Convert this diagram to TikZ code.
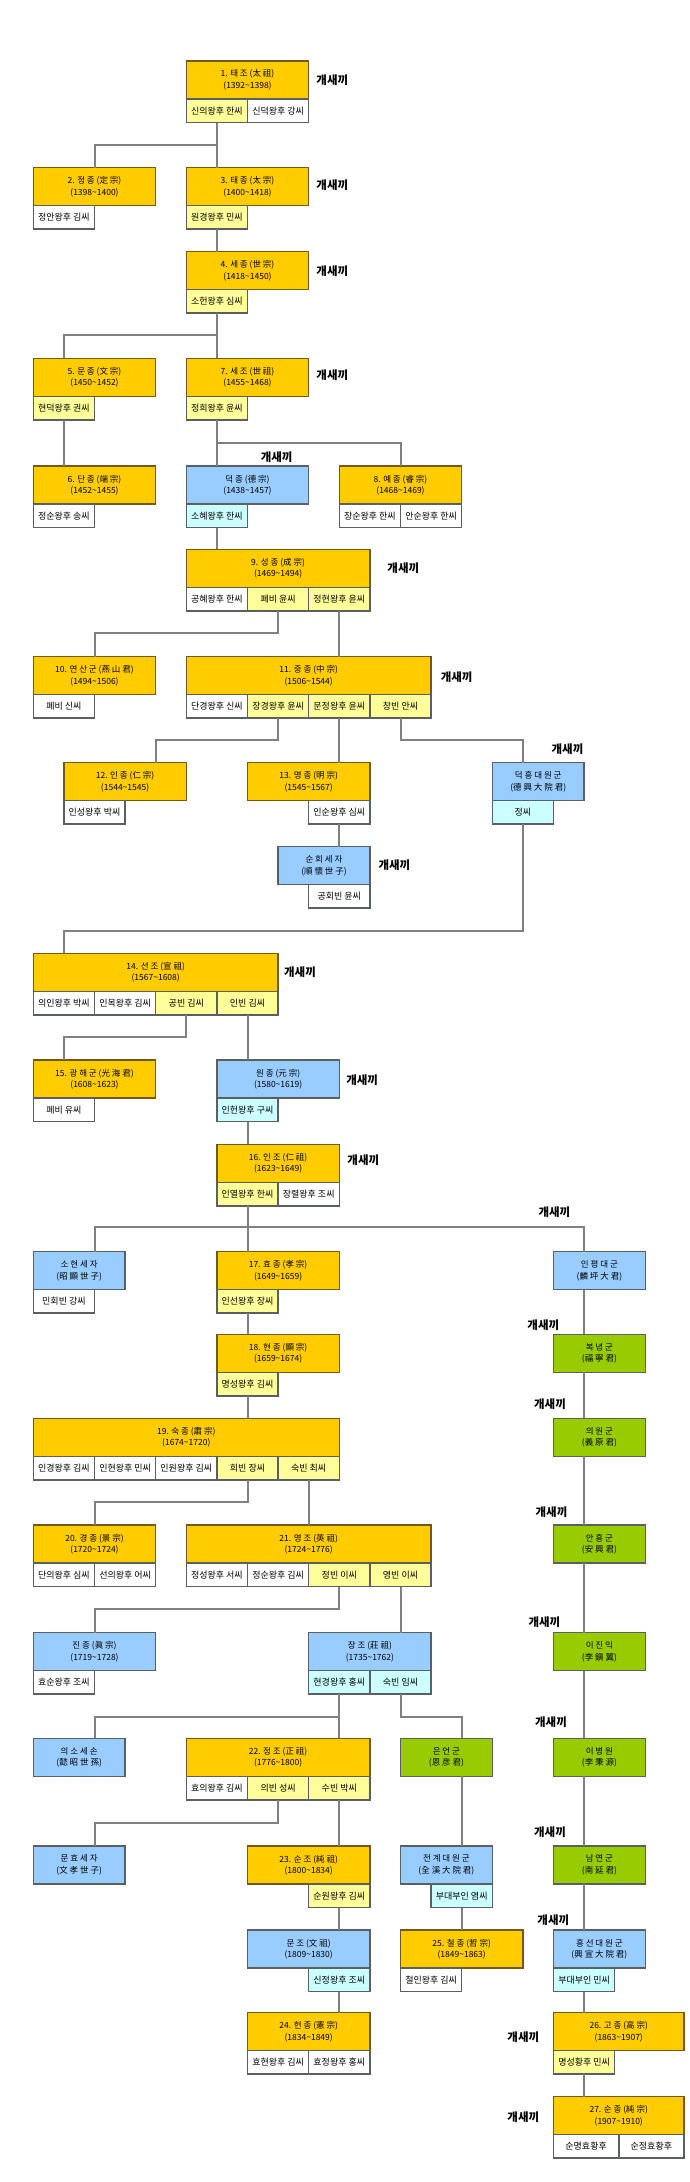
\documentclass[tikz,border=0pt]{standalone}
\usepackage{fontspec}
\setmainfont{Noto Sans CJK KR}
\newcommand*{\reign}[2]{(#1\textasciitilde #2)}
\definecolor{kingfill}{RGB}{255,204,0}
\definecolor{kingline}{RGB}{110,90,30}
\definecolor{princefill}{RGB}{153,204,255}
\definecolor{branchfill}{RGB}{153,204,0}
\definecolor{queenfill}{RGB}{255,255,153}
\definecolor{consortfill}{RGB}{204,255,255}
\definecolor{boxline}{RGB}{90,95,100}
\definecolor{linkgray}{RGB}{128,128,128}
\tikzset{
    king/.style = {
        draw=kingline, fill=kingfill, line width=1.5pt,
        anchor=north west, outer sep=0pt, inner sep=0pt,
        minimum width=122.4pt, minimum height=38pt,
        align=center, font=\fontsize{8.5}{11.5}\selectfont
    },
    prince/.style = {king, draw=boxline, fill=princefill, minimum width=91.8pt},
    branch/.style = {prince, fill=branchfill},
    wife/.style = {
        draw=boxline, fill=white, line width=1.5pt,
        anchor=north west, outer sep=0pt, inner sep=0pt,
        minimum width=61.2pt, minimum height=23.5pt,
        font=\fontsize{9}{10}\selectfont
    },
    queen/.style = {wife, fill=queenfill},
    consort/.style = {wife, fill=consortfill},
    link/.style = {draw=linkgray, line width=2pt},
    tag/.style = {font=\fontsize{11.5}{12}\selectfont\bfseries}
}
\begin{document}
\begin{tikzpicture}[x=1pt, y=-1pt]
  \path[use as bounding box, fill=white] (0,0) rectangle (690,2182);

  % Kings 1 to 8
  \node[king] (k1) at (186.3,61) {1. 태 조 (太 祖)\\\reign{1392}{1398}};
  \node[queen] (k1w1) at (k1.south west) {신의왕후 한씨};
  \node[wife] (k1w2) at (k1w1.north east) {신덕왕후 강씨};

  \node[king] (k2) at (33.3,167.7) {2. 정 종 (定 宗)\\\reign{1398}{1400}};
  \node[wife] (k2w1) at (k2.south west) {정안왕후 김씨};
  \node[king] (k3) at (186.3,167.7) {3. 태 종 (太 宗)\\\reign{1400}{1418}};
  \node[queen] (k3w1) at (k3.south west) {원경왕후 민씨};

  \node[king] (k4) at (186.3,251.7) {4. 세 종 (世 宗)\\\reign{1418}{1450}};
  \node[queen] (k4w1) at (k4.south west) {소헌왕후 심씨};

  \node[king] (k5) at (33.3,358.3) {5. 문 종 (文 宗)\\\reign{1450}{1452}};
  \node[queen] (k5w1) at (k5.south west) {현덕왕후 권씨};
  \node[king] (k7) at (186.3,358.3) {7. 세 조 (世 祖)\\\reign{1455}{1468}};
  \node[queen] (k7w1) at (k7.south west) {정희왕후 윤씨};

  \node[king] (k6) at (33.3,466) {6. 단 종 (端 宗)\\\reign{1452}{1455}};
  \node[wife] (k6w1) at (k6.south west) {정순왕후 송씨};
  \node[prince, minimum width=122.4pt] (deokjong) at (186.3,466) {덕 종 (德 宗)\\\reign{1438}{1457}};
  \node[consort] (deokjongw1) at (deokjong.south west) {소혜왕후 한씨};
  \node[king] (k8) at (339.3,466) {8. 예 종 (睿 宗)\\\reign{1468}{1469}};
  \node[wife] (k8w1) at (k8.south west) {장순왕후 한씨};
  \node[wife] (k8w2) at (k8w1.north east) {안순왕후 한씨};

  % Kings 9 to 13
  \node[king, minimum width=183.6pt] (k9) at (186.3,549.3) {9. 성 종 (成 宗)\\\reign{1469}{1494}};
  \node[wife] (k9w1) at (k9.south west) {공혜왕후 한씨};
  \node[queen] (k9w2) at (k9w1.north east) {폐비 윤씨};
  \node[queen] (k9w3) at (k9w2.north east) {정현왕후 윤씨};

  \node[king] (k10) at (33.3,656.7) {10. 연 산 군 (燕 山 君)\\\reign{1494}{1506}};
  \node[wife] (k10w1) at (k10.south west) {폐비 신씨};
  \node[king, minimum width=244.8pt] (k11) at (186.3,656.7) {11. 중 종 (中 宗)\\\reign{1506}{1544}};
  \node[wife] (k11w1) at (k11.south west) {단경왕후 신씨};
  \node[queen] (k11w2) at (k11w1.north east) {장경왕후 윤씨};
  \node[queen] (k11w3) at (k11w2.north east) {문정왕후 윤씨};
  \node[queen] (k11w4) at (k11w3.north east) {창빈 안씨};

  \node[king] (k12) at (63.9,762.7) {12. 인 종 (仁 宗)\\\reign{1544}{1545}};
  \node[wife] (k12w1) at (k12.south west) {인성왕후 박씨};
  \node[king] (k13) at (247.5,762.7) {13. 명 종 (明 宗)\\\reign{1545}{1567}};
  \node[wife, anchor=north east] (k13w1) at (k13.south east) {인순왕후 심씨};
  \node[prince] (deokheung) at (492.3,762.7) {덕 흥 대 원 군\\(德 興 大 院 君)};
  \node[consort] (deokheungw1) at (deokheung.south west) {정씨};

  \node[prince] (sunhoe) at (278.1,846.7) {순 회 세 자\\(順 懷 世 子)};
  \node[wife, anchor=north east] (sunhoew1) at (sunhoe.south east) {공회빈 윤씨};

  % Kings 14 to 18
  \node[king, minimum width=244.8pt] (k14) at (33.3,953.3) {14. 선 조 (宣 祖)\\\reign{1567}{1608}};
  \node[wife] (k14w1) at (k14.south west) {의인왕후 박씨};
  \node[wife] (k14w2) at (k14w1.north east) {인목왕후 김씨};
  \node[queen] (k14w3) at (k14w2.north east) {공빈 김씨};
  \node[queen] (k14w4) at (k14w3.north east) {인빈 김씨};

  \node[king] (k15) at (33.3,1060) {15. 광 해 군 (光 海 君)\\\reign{1608}{1623}};
  \node[wife] (k15w1) at (k15.south west) {폐비 유씨};
  \node[prince, minimum width=122.4pt] (wonjong) at (216.9,1060) {원 종 (元 宗)\\\reign{1580}{1619}};
  \node[consort] (wonjongw1) at (wonjong.south west) {인헌왕후 구씨};

  \node[king] (k16) at (216.9,1144.3) {16. 인 조 (仁 祖)\\\reign{1623}{1649}};
  \node[queen] (k16w1) at (k16.south west) {인열왕후 한씨};
  \node[wife] (k16w2) at (k16w1.north east) {장렬왕후 조씨};

  \node[prince] (sohyeon) at (33.3,1251.7) {소 현 세 자\\(昭 顯 世 子)};
  \node[wife] (sohyeonw1) at (sohyeon.south west) {민회빈 강씨};
  \node[king] (k17) at (216.9,1251.7) {17. 효 종 (孝 宗)\\\reign{1649}{1659}};
  \node[queen] (k17w1) at (k17.south west) {인선왕후 장씨};
  \node[prince] (inpyeong) at (553.5,1251.7) {인 평 대 군\\(麟 坪 大 君)};

  \node[king] (k18) at (216.9,1334.3) {18. 현 종 (顯 宗)\\\reign{1659}{1674}};
  \node[queen] (k18w1) at (k18.south west) {명성왕후 김씨};
  \node[branch] (bokneung) at (553.5,1334.3) {복 녕 군\\(福 寧 君)};

  % Kings 19 to 21
  \node[king, minimum width=306pt] (k19) at (33.3,1418.3) {19. 숙 종 (肅 宗)\\\reign{1674}{1720}};
  \node[wife] (k19w1) at (k19.south west) {인경왕후 김씨};
  \node[wife] (k19w2) at (k19w1.north east) {인현왕후 민씨};
  \node[wife] (k19w3) at (k19w2.north east) {인원왕후 김씨};
  \node[queen] (k19w4) at (k19w3.north east) {희빈 장씨};
  \node[queen] (k19w5) at (k19w4.north east) {숙빈 최씨};
  \node[branch] (uiwon) at (553.5,1418.3) {의 원 군\\(義 原 君)};

  \node[king] (k20) at (33.3,1525) {20. 경 종 (景 宗)\\\reign{1720}{1724}};
  \node[wife] (k20w1) at (k20.south west) {단의왕후 심씨};
  \node[wife] (k20w2) at (k20w1.north east) {선의왕후 어씨};
  \node[king, minimum width=244.8pt] (k21) at (186.3,1525) {21. 영 조 (英 祖)\\\reign{1724}{1776}};
  \node[wife] (k21w1) at (k21.south west) {정성왕후 서씨};
  \node[wife] (k21w2) at (k21w1.north east) {정순왕후 김씨};
  \node[queen] (k21w3) at (k21w2.north east) {정빈 이씨};
  \node[queen] (k21w4) at (k21w3.north east) {영빈 이씨};
  \node[branch] (anheung) at (553.5,1525) {안 흥 군\\(安 興 君)};

  \node[prince, minimum width=122.4pt] (jinjong) at (33.3,1632.7) {진 종 (眞 宗)\\\reign{1719}{1728}};
  \node[wife] (jinjongw1) at (jinjong.south west) {효순왕후 조씨};
  \node[prince, minimum width=122.4pt] (jangjo) at (308.7,1632.7) {장 조 (莊 祖)\\\reign{1735}{1762}};
  \node[consort] (jangjow1) at (jangjo.south west) {현경왕후 홍씨};
  \node[consort] (jangjow2) at (jangjow1.north east) {숙빈 임씨};
  \node[branch] (jinik) at (553.5,1632.7) {이 진 익\\(李 鎭 翼)};

  % Kings 22 to 27
  \node[prince] (uiso) at (33.3,1738.3) {의 소 세 손\\(懿 昭 世 孫)};
  \node[king, minimum width=183.6pt] (k22) at (186.3,1738.3) {22. 정 조 (正 祖)\\\reign{1776}{1800}};
  \node[wife] (k22w1) at (k22.south west) {효의왕후 김씨};
  \node[queen] (k22w2) at (k22w1.north east) {의빈 성씨};
  \node[queen] (k22w3) at (k22w2.north east) {수빈 박씨};
  \node[branch] (euneon) at (400.5,1738.3) {은 언 군\\(恩 彦 君)};
  \node[branch] (byeongwon) at (553.5,1738.3) {이 병 원\\(李 秉 源)};

  \node[prince] (munhyo) at (33.3,1846) {문 효 세 자\\(文 孝 世 子)};
  \node[king] (k23) at (247.5,1846) {23. 순 조 (純 祖)\\\reign{1800}{1834}};
  \node[queen, anchor=north east] (k23w1) at (k23.south east) {순원왕후 김씨};
  \node[prince] (jeongye) at (400.5,1846) {전 계 대 원 군\\(全 溪 大 院 君)};
  \node[consort, anchor=north east] (jeongyew1) at (jeongye.south east) {부대부인 염씨};
  \node[branch] (namyeon) at (553.5,1846) {남 연 군\\(南 延 君)};

  \node[prince, minimum width=122.4pt] (munjo) at (247.5,1930) {문 조 (文 祖)\\\reign{1809}{1830}};
  \node[consort, anchor=north east] (munjow1) at (munjo.south east) {신정왕후 조씨};
  \node[king] (k25) at (400.5,1930) {25. 철 종 (哲 宗)\\\reign{1849}{1863}};
  \node[wife] (k25w1) at (k25.south west) {철인왕후 김씨};
  \node[prince] (heungseon) at (553.5,1930) {흥 선 대 원 군\\(興 宣 大 院 君)};
  \node[consort] (heungseonw1) at (heungseon.south west) {부대부인 민씨};

  \node[king] (k24) at (247.5,2012.7) {24. 헌 종 (憲 宗)\\\reign{1834}{1849}};
  \node[wife] (k24w1) at (k24.south west) {효현왕후 김씨};
  \node[wife] (k24w2) at (k24w1.north east) {효정왕후 홍씨};
  \node[king, minimum width=130.5pt] (k26) at (553.5,2012.7) {26. 고 종 (高 宗)\\\reign{1863}{1907}};
  \node[queen] (k26w1) at (k26.south west) {명성황후 민씨};

  \node[king, minimum width=130.5pt] (k27) at (553.5,2096.7) {27. 순 종 (純 宗)\\\reign{1907}{1910}};
  \node[wife, minimum width=65.25pt] (k27w1) at (k27.south west) {순명효황후};
  \node[wife, minimum width=65.25pt] (k27w2) at (k27w1.north east) {순정효황후};

  % Tags beside the boxes
  \node[tag] (k1tag) at (332.3,80) {개새끼};
  \node[tag] (k3tag) at (332.3,185) {개새끼};
  \node[tag] (k4tag) at (332.3,270.7) {개새끼};
  \node[tag] (k7tag) at (332.3,375) {개새끼};
  \node[tag] (deokjongtag) at (276.7,456.7) {개새끼};
  \node[tag] (k9tag) at (403.3,568.3) {개새끼};
  \node[tag] (k11tag) at (456.7,676.7) {개새끼};
  \node[tag] (deokheungtag) at (567.5,749.3) {개새끼};
  \node[tag] (sunhoetag) at (394.4,865) {개새끼};
  \node[tag] (k14tag) at (300,971.7) {개새끼};
  \node[tag] (wonjongtag) at (362.2,1080) {개새끼};
  \node[tag] (k16tag) at (363.3,1160) {개새끼};
  \node[tag] (inpyeongtag) at (554.4,1211.7) {개새끼};
  \node[tag] (bokneungtag) at (543.3,1325) {개새끼};
  \node[tag] (uiwontag) at (550,1404) {개새끼};
  \node[tag] (anheungtag) at (551.5,1511.7) {개새끼};
  \node[tag] (jiniktag) at (544.4,1621.7) {개새끼};
  \node[tag] (byeongwontag) at (551,1721.7) {개새끼};
  \node[tag] (namyeontag) at (550,1831.7) {개새끼};
  \node[tag] (heungseontag) at (553.3,1920) {개새끼};
  \node[tag] (k26tag) at (523.3,2037.3) {개새끼};
  \node[tag] (k27tag) at (523.3,2117.3) {개새끼};

  % Main line
  \draw[link] (k1w1.south) -- ++(0,22.5) -| (k2.north);
  \draw[link] (k1w1.south) -- (k1w1.south |- k3.north);
  \draw[link] (k3w1.south) -- (k3w1.south |- k4.north);
  \draw[link] (k4w1.south) -- ++(0,21.8) -| (k5.north -| k5w1.south);
  \draw[link] (k4w1.south) -- (k4w1.south |- k7.north);
  \draw[link] (k5w1.south) -- (k5w1.south |- k6.north);
  \draw[link] (k7w1.south) -- ++(0,22.9) -| (k8.north);
  \draw[link] (k7w1.south) -- (k7w1.south |- deokjong.north);
  \draw[link] (deokjongw1.south) -- (deokjongw1.south |- k9.north);
  \draw[link] (k9w2.south) -- ++(0,22.5) -| (k10.north);
  \draw[link] (k9w3.south) -- (k9w3.south |- k11.north);
  \draw[link] (k11w2.south) -- ++(0,21.8) -| ([xshift=-30.6pt]k12.north east);
  \draw[link] (k11w3.south) -- (k11w3.south |- k13.north);
  \draw[link] (k11w4.south) -- ++(0,21.8) -| (deokheung.north -| deokheungw1.south);
  \draw[link] (k13w1.south) -- (k13w1.south |- sunhoe.north);
  \draw[link] (deokheungw1.south) -- ++(0,106.5) -| (k14.north -| k14w1.south);
  \draw[link] (k14w3.south) -- ++(0,21.9) -| (k15.north -| k15w1.south);
  \draw[link] (k14w4.south) -- (k14w4.south |- wonjong.north);
  \draw[link] (wonjongw1.south) -- (wonjongw1.south |- k16.north);
  \draw[link] (k16w1.south) -- ++(0,20.9) -| ([xshift=61.2pt]sohyeon.north west);
  \draw[link] (k16w1.south) -- ++(0,20.9) -| ([xshift=30.6pt]inpyeong.north west);
  \draw[link] (k16w1.south) -- (k16w1.south |- k17.north);
  \draw[link] (k17w1.south) -- (k17w1.south |- k18.north);
  \draw[link] (k18w1.south) -- (k18w1.south |- k19.north);
  \draw[link] (k19w4.south) -- ++(0,21.9) -| (k20.north);
  \draw[link] (k19w5.south) -- (k19w5.south |- k21.north);
  \draw[link] (k21w3.south) -- ++(0,22.8) -| (jinjong.north);
  \draw[link] (k21w4.south) -- (k21w4.south |- jangjo.north);
  \draw[link] (jangjow1.south) -- ++(0,22.5) -| ([xshift=61.2pt]uiso.north west);
  \draw[link] (jangjow1.south) -- (jangjow1.south |- k22.north);
  \draw[link] (jangjow2.south) -- ++(0,22.5) -| ([xshift=61.2pt]euneon.north west);
  \draw[link] (k22w2.south) -- ++(0,22.9) -| ([xshift=61.2pt]munhyo.north west);
  \draw[link] (k22w3.south) -- (k22w3.south |- k23.north);
  \draw[link] (euneon.south -| jeongyew1.south) -- (jeongye.north -| jeongyew1.south);
  \draw[link] (jeongyew1.south) -- (jeongyew1.south |- k25.north);
  \draw[link] (k23w1.south) -- (k23w1.south |- munjo.north);
  \draw[link] (munjow1.south) -- (munjow1.south |- k24.north);

  % Inpyeong line down to Gojong
  \draw[link] ([xshift=30.6pt]inpyeong.south west) -- ([xshift=30.6pt]bokneung.north west);
  \draw[link] ([xshift=30.6pt]bokneung.south west) -- ([xshift=30.6pt]uiwon.north west);
  \draw[link] ([xshift=30.6pt]uiwon.south west) -- ([xshift=30.6pt]anheung.north west);
  \draw[link] ([xshift=30.6pt]anheung.south west) -- ([xshift=30.6pt]jinik.north west);
  \draw[link] ([xshift=30.6pt]jinik.south west) -- ([xshift=30.6pt]byeongwon.north west);
  \draw[link] ([xshift=30.6pt]byeongwon.south west) -- ([xshift=30.6pt]namyeon.north west);
  \draw[link] ([xshift=30.6pt]namyeon.south west) -- ([xshift=30.6pt]heungseon.north west);
  \draw[link] (heungseonw1.south) -- (heungseonw1.south |- k26.north);
  \draw[link] (k26w1.south) -- (k26w1.south |- k27.north);

\end{tikzpicture}
\end{document}
